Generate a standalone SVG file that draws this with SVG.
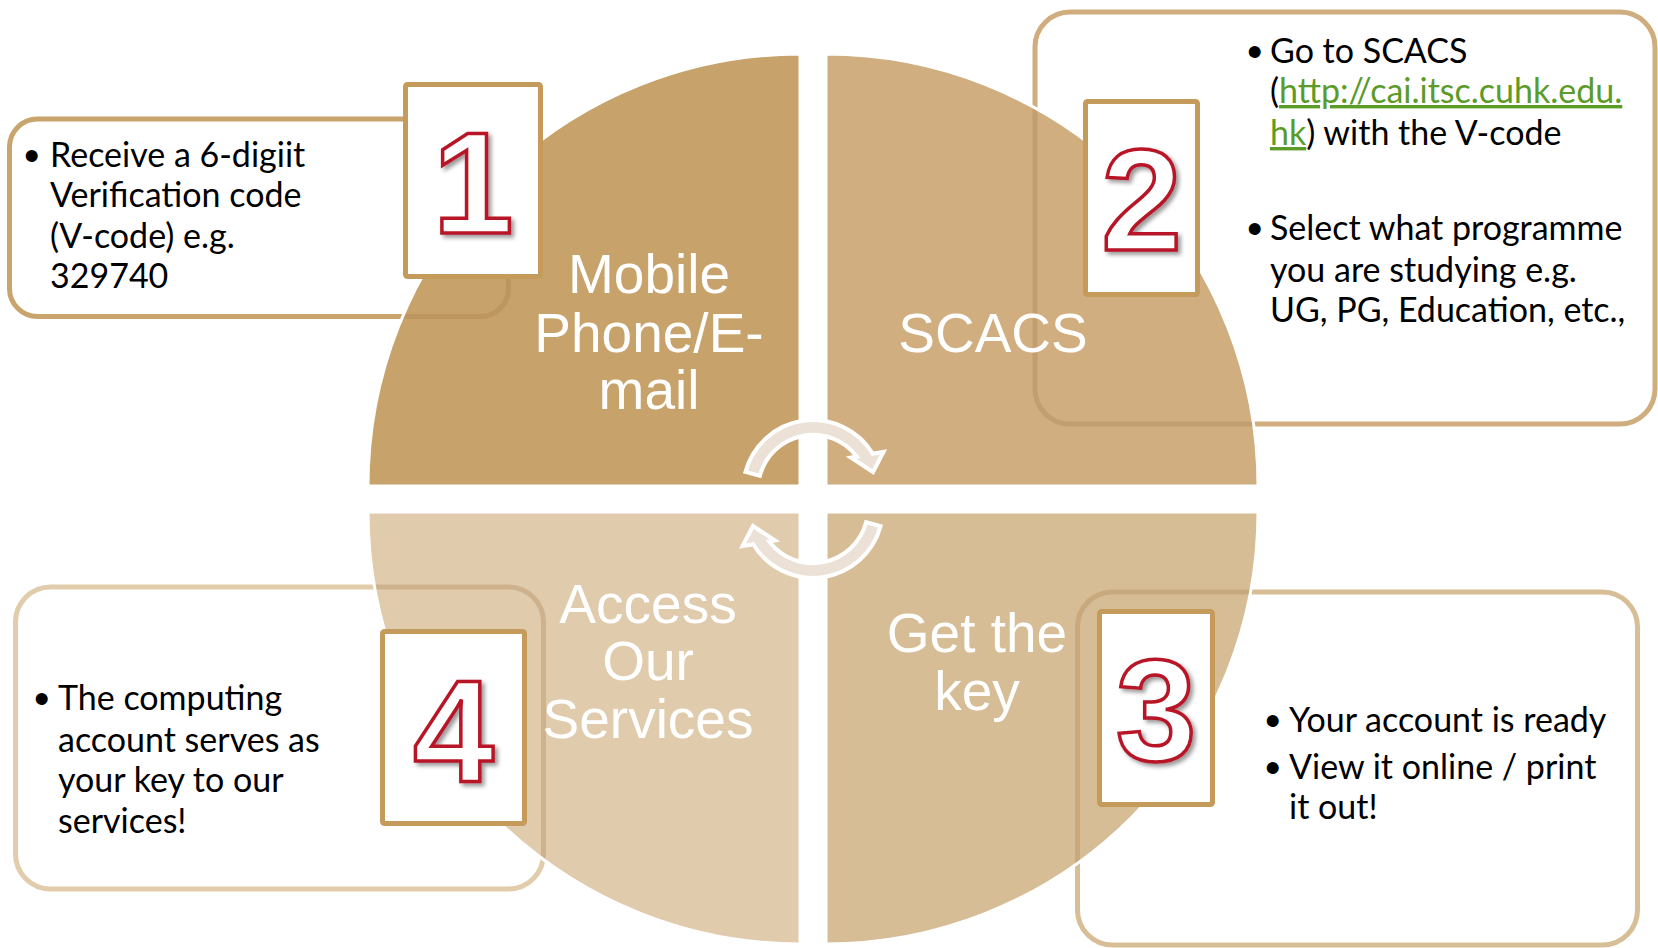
<svg xmlns="http://www.w3.org/2000/svg" xmlns:xlink="http://www.w3.org/1999/xlink" width="1658" height="948" viewBox="0 0 1658 948">
<defs>
<style>
.box{fill:#fff;stroke-width:5}
.ov{fill:none;stroke:#A67C45;stroke-opacity:0.3;stroke-width:5}
.qo{fill:none;stroke:#fff;stroke-width:3}
.nb{fill:#fff;stroke:#C59B5C;stroke-width:5}
.num{font-family:"Liberation Sans",Arial,sans-serif;font-weight:bold;font-size:145px;fill:#fff;stroke:#B81427;stroke-width:3.5;text-anchor:middle;filter:url(#sh)}
.lbl{font-family:"Liberation Sans",Arial,sans-serif;font-size:55px;fill:#fff;text-anchor:middle}
.txt{font-family:Lato,"Open Sans",sans-serif;font-size:34px;fill:#000}
.bul{font-family:"Liberation Sans",Arial,sans-serif;font-size:44px;fill:#000}
.url{fill:#5B9B28;text-decoration:underline}
.arr{fill:#EBE1D6;stroke:#fff;stroke-width:4}
</style>
<filter id="sh" x="-20%" y="-20%" width="150%" height="150%">
<feDropShadow dx="3" dy="3" stdDeviation="2" flood-color="#000" flood-opacity="0.4"/>
</filter>
<path id="q1" d="M800 486 H368 A432 432 0 0 1 800 54 Z"/>
<path id="q2" d="M826 486 V54 A432 432 0 0 1 1258 486 Z"/>
<path id="q3" d="M826 512 H1258 A432 432 0 0 1 826 944 Z"/>
<path id="q4" d="M800 512 V944 A432 432 0 0 1 368 512 Z"/>
<clipPath id="c1"><use xlink:href="#q1"/></clipPath>
<clipPath id="c2"><use xlink:href="#q2"/></clipPath>
<clipPath id="c3"><use xlink:href="#q3"/></clipPath>
<clipPath id="c4"><use xlink:href="#q4"/></clipPath>
<rect id="b1" x="9.5" y="119" width="499" height="197.5" rx="28"/>
<rect id="b2" x="1035" y="12" width="620" height="412" rx="35"/>
<rect id="b3" x="1077.5" y="592" width="560" height="353" rx="35"/>
<rect id="b4" x="15.5" y="587" width="528" height="302" rx="35"/>
</defs>
<rect width="1658" height="948" fill="#fff"/>

<g id="step1">
<use xlink:href="#b1" class="box" stroke="#C9A46C"/>
<use xlink:href="#q1" fill="#C7A26A"/>
<use xlink:href="#b1" class="ov" clip-path="url(#c1)"/>
<use xlink:href="#q1" class="qo"/>
<rect class="nb" x="405.5" y="84.5" width="135" height="192" rx="2"/>
<text class="num" x="473" y="233">1</text>
<text class="lbl" x="649" y="293">Mobile</text>
<text class="lbl" x="649" y="352">Phone/E-</text>
<text class="lbl" x="649" y="409">mail</text>
<text class="bul" x="24" y="171">•</text>
<text class="txt" x="50" y="167">Receive a 6-digiit</text>
<text class="txt" x="50" y="207">Verification code</text>
<text class="txt" x="50" y="248">(V-code) e.g.</text>
<text class="txt" x="50" y="288">329740</text>
</g>

<g id="step2">
<use xlink:href="#b2" class="box" stroke="#CFAD7E"/>
<use xlink:href="#q2" fill="#D0AE80"/>
<use xlink:href="#b2" class="ov" clip-path="url(#c2)"/>
<use xlink:href="#q2" class="qo"/>
<rect class="nb" x="1085.5" y="101.5" width="112" height="193" rx="2"/>
<text class="num" x="1141.5" y="250">2</text>
<text class="lbl" x="993" y="352">SCACS</text>
<text class="bul" x="1247" y="67">•</text>
<text class="txt" x="1270" y="63">Go to SCACS</text>
<text class="txt" x="1270" y="103">(<tspan class="url">http://cai.itsc.cuhk.edu.</tspan></text>
<text class="txt" x="1270" y="145"><tspan class="url">hk</tspan>) with the V-code</text>
<text class="bul" x="1247" y="244">•</text>
<text class="txt" x="1270" y="240">Select what programme</text>
<text class="txt" x="1270" y="282">you are studying e.g.</text>
<text class="txt" x="1270" y="322">UG, PG, Education, etc.,</text>
</g>

<g id="step3">
<use xlink:href="#b3" class="box" stroke="#D8BE96"/>
<use xlink:href="#q3" fill="#D7BD96"/>
<use xlink:href="#b3" class="ov" clip-path="url(#c3)"/>
<use xlink:href="#q3" class="qo"/>
<rect class="nb" x="1099.5" y="611.5" width="113" height="193" rx="2"/>
<text class="num" x="1156" y="760">3</text>
<text class="lbl" x="977" y="652">Get the</text>
<text class="lbl" x="977" y="710">key</text>
<text class="bul" x="1265" y="736">•</text>
<text class="txt" x="1289" y="732">Your account is ready</text>
<text class="bul" x="1265" y="783">•</text>
<text class="txt" x="1289" y="779">View it online / print</text>
<text class="txt" x="1289" y="819">it out!</text>
</g>

<g id="step4">
<use xlink:href="#b4" class="box" stroke="#E1CCAB"/>
<use xlink:href="#q4" fill="#E0CBAC"/>
<use xlink:href="#b4" class="ov" clip-path="url(#c4)"/>
<use xlink:href="#q4" class="qo"/>
<rect class="nb" x="382.5" y="631.5" width="142" height="192" rx="2"/>
<text class="num" x="453.5" y="781">4</text>
<text class="lbl" x="648" y="623">Access</text>
<text class="lbl" x="648" y="680">Our</text>
<text class="lbl" x="648" y="738">Services</text>
<text class="bul" x="34" y="714">•</text>
<text class="txt" x="58" y="710">The computing</text>
<text class="txt" x="58" y="752">account serves as</text>
<text class="txt" x="58" y="792">your key to our</text>
<text class="txt" x="58" y="833">services!</text>
</g>

<g id="connectors">
<path id="arrowTop" class="arr" d="M745.4 471.9 A70 70 0 0 1 872.8 453.8 L883.5 452 L873 472 L851 457.5 L856.8 456.5 A55 55 0 0 0 759.9 475.8 Z"/>
<use xlink:href="#arrowTop" transform="rotate(180 813 499)"/>
</g>
</svg>
